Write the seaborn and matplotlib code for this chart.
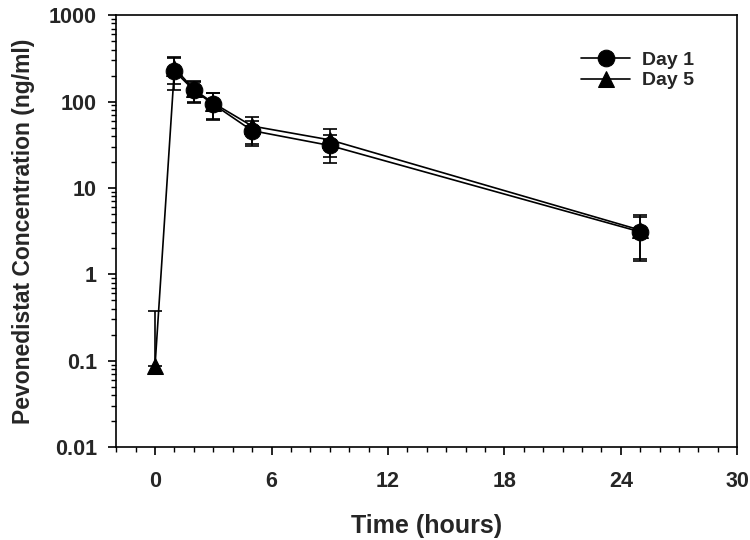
import numpy as np
import pandas as pd
import seaborn as sns
from matplotlib import pyplot as plt
from matplotlib.ticker import MultipleLocator, LogLocator, NullFormatter, FixedLocator, FixedFormatter

day1_time = [1, 2, 3, 5, 9, 25]
day1_conc = [225, 135, 93, 46, 31, 3.1]
day1_upper = [320, 170, 124, 60, 41.5, 4.6]
day1_lower = [135, 97, 61, 30.5, 19.5, 1.42]

day5_time = [0, 1, 2, 3, 5, 9, 25]
day5_conc = [0.088, 245, 138, 96, 52, 36, 3.25]
day5_upper = [0.38, 325, 172, 124, 65.5, 48, 4.9]
day5_lower = [None, 158, 100, 63, 32, 22.5, 1.5]

sns.set_theme(style='ticks')
plt.rcParams['font.family'] = ['Liberation Sans', 'DejaVu Sans']
plt.rcParams['font.weight'] = 'bold'

df = pd.concat([
    pd.DataFrame({'time': day1_time, 'conc': day1_conc, 'day': 'Day 1'}),
    pd.DataFrame({'time': day5_time, 'conc': day5_conc, 'day': 'Day 5'}),
])

fig = plt.figure(figsize=(7.5, 5.4), dpi=100)
ax = fig.add_axes([0.155, 0.172, 0.828, 0.8])

# error bars first so the markers sit on top
for t, c, up, lo in [(day1_time, day1_conc, day1_upper, day1_lower),
                     (day5_time, day5_conc, day5_upper, day5_lower)]:
    t = np.array(t, float)
    c = np.array(c, float)
    up = np.array(up, float)
    lo = np.array([np.nan if v is None else v for v in lo], float)
    ax.errorbar(t, c, yerr=[np.zeros_like(c), up - c], fmt='none', ecolor='black',
                elinewidth=1.2, capsize=4.7, capthick=1.2, zorder=1)
    ok = ~np.isnan(lo)
    ax.errorbar(t[ok], c[ok], yerr=[c[ok] - lo[ok], np.zeros(ok.sum())], fmt='none',
                ecolor='black', elinewidth=1.2, capsize=4.7, capthick=1.2, zorder=1)

sns.lineplot(df, x='time', y='conc', hue='day', style='day',
             palette={'Day 1': 'black', 'Day 5': 'black'},
             markers={'Day 1': 'o', 'Day 5': '^'}, dashes=False,
             markersize=12, markeredgecolor='black', linewidth=1.2,
             ax=ax, zorder=3)

ax.set_yscale('log')
ax.set_ylim(0.01, 1000)
ax.set_xlim(-2, 30)
ax.xaxis.set_major_locator(MultipleLocator(6))
ax.xaxis.set_minor_locator(MultipleLocator(1))
ax.yaxis.set_major_locator(FixedLocator([0.01, 0.1, 1, 10, 100, 1000]))
ax.yaxis.set_major_formatter(FixedFormatter(['0.01', '0.1', '1', '10', '100', '1000']))
ax.yaxis.set_minor_locator(LogLocator(base=10, subs=np.arange(2, 10)))
ax.yaxis.set_minor_formatter(NullFormatter())

for side in ax.spines.values():
    side.set_color('black')
    side.set_linewidth(1.2)
ax.tick_params(which='major', direction='out', length=6, width=1.2, color='black',
               labelsize=15.5)
ax.tick_params(axis='x', which='major', pad=11)
ax.tick_params(axis='y', which='major', pad=8)
ax.tick_params(which='minor', direction='out', length=3.5, width=1, color='black')
for lab in ax.get_xticklabels() + ax.get_yticklabels():
    lab.set_fontweight('bold')

ax.set_xlabel('Time (hours)', fontsize=18, fontweight='bold', labelpad=16)
ax.set_ylabel('Pevonedistat Concentration (ng/ml)', fontsize=16.5, fontweight='bold', labelpad=10)

leg = ax.legend(loc='upper right', bbox_to_anchor=(0.958, 0.957), frameon=False,
                fontsize=14, handlelength=2.5, handletextpad=0.6, labelspacing=0.15,
                title=None)
for txt in leg.get_texts():
    txt.set_fontweight('bold')

fig.savefig('out.png', dpi=100)
